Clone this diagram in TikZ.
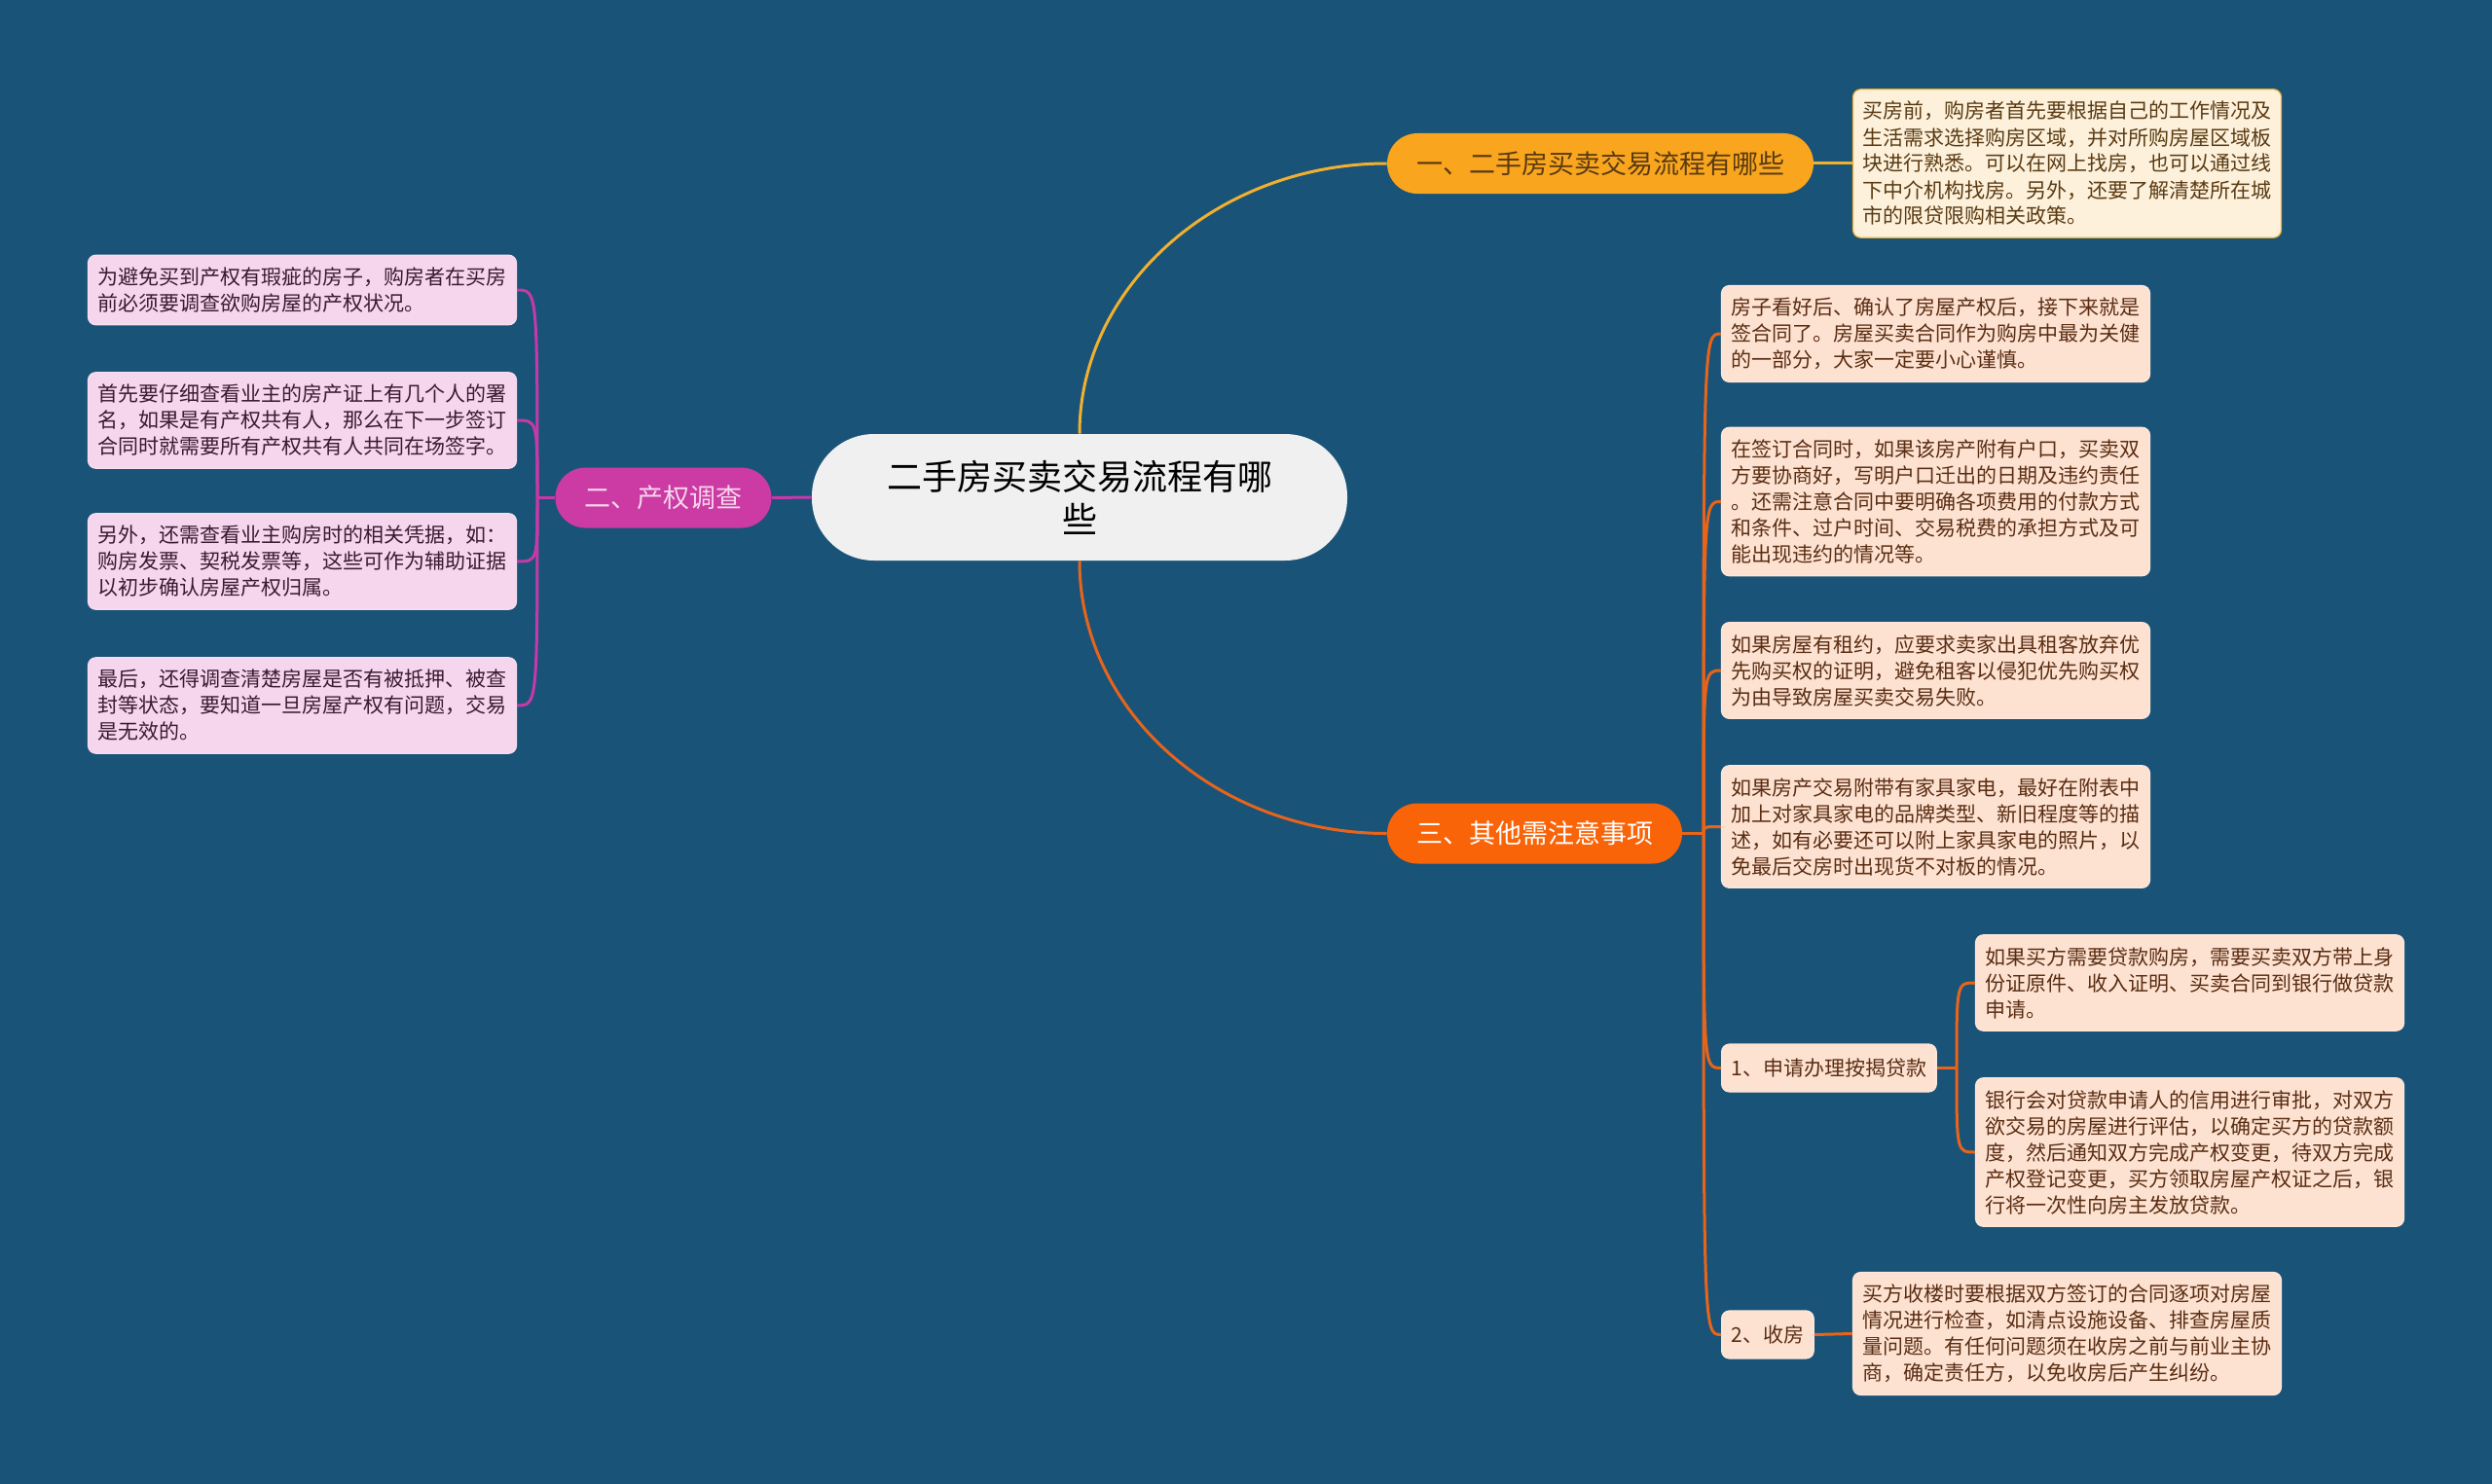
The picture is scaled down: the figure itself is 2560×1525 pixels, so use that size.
\documentclass[tikz,border=0pt]{standalone}
\usepackage{fontspec}
\setmainfont{Noto Sans CJK SC}
\definecolor{bgBlue}{RGB}{26,83,120}
\definecolor{mainFill}{RGB}{240,240,240}
\definecolor{yelFill}{RGB}{249,166,30}
\definecolor{yelLine}{RGB}{240,176,48}
\definecolor{yelLeaf}{RGB}{253,241,220}
\definecolor{yelText}{RGB}{90,58,18}
\definecolor{magFill}{RGB}{203,59,163}
\definecolor{magLine}{RGB}{198,58,168}
\definecolor{magLeaf}{RGB}{245,214,236}
\definecolor{magText}{RGB}{58,26,51}
\definecolor{oraFill}{RGB}{250,100,8}
\definecolor{oraLine}{RGB}{232,100,26}
\definecolor{oraLeaf}{RGB}{253,226,210}
\definecolor{oraText}{RGB}{90,45,18}
\begin{document}
\begin{tikzpicture}[x=0.5pt, y=-0.5pt,
    main/.style={fill=mainFill, rounded corners=32pt, minimum width=275pt, minimum height=65pt,
        align=center, text=black, font=\fontsize{18pt}{22pt}\selectfont},
    branch/.style={rounded corners=15.5pt, minimum height=31pt, inner xsep=15pt, inner ysep=0pt,
        font=\fontsize{13.5pt}{16pt}\selectfont},
    leaf/.style={draw, line width=0.6pt, rounded corners=4pt, text width=210pt, align=left,
        inner xsep=5pt, inner ysep=6.25pt, font=\fontsize{10.5pt}{13.5pt}\selectfont},
    sub/.style={draw, line width=0.6pt, rounded corners=4pt, minimum height=24.5pt, inner xsep=5pt,
        inner ysep=0pt, font=\fontsize{10.5pt}{13.5pt}\selectfont},
    lnY/.style={draw=yelLine, line width=1.5pt},
    lnM/.style={draw=magLine, line width=1.5pt},
    lnO/.style={draw=oraLine, line width=1.5pt}]
% Background
\useasboundingbox[fill=bgBlue] (0,0) rectangle (2560,1525);

% Central topic
\node[main] (c) at (1109,511) {二手房买卖交易流程有哪\\些};

% Branches
\node[branch, fill=yelFill, text=yelText] (b1) at (1644,168) {一、二手房买卖交易流程有哪些};
\node[branch, fill=magFill, text=magLeaf] (b2) at (681.5,511.5) {二、产权调查};
\node[branch, fill=oraFill, text=white] (b3) at (1576.5,856.5) {三、其他需注意事项};

% Branch 1 leaf
\node[leaf, fill=yelLeaf, draw=yelLine, text=yelText] (t1) at (2123.5,168)
    {买房前，购房者首先要根据自己的工作情况及\\生活需求选择购房区域，并对所购房屋区域板\\块进行熟悉。可以在网上找房，也可以通过线\\下中介机构找房。另外，还要了解清楚所在城\\市的限贷限购相关政策。};

% Branch 2 leaves
\node[leaf, fill=magLeaf, draw=magLeaf!80!white, text=magText] (m1) at (310.5,298)
    {为避免买到产权有瑕疵的房子，购房者在买房\\前必须要调查欲购房屋的产权状况。};
\node[leaf, fill=magLeaf, draw=magLeaf!80!white, text=magText] (m2) at (310.5,432)
    {首先要仔细查看业主的房产证上有几个人的署\\名，如果是有产权共有人，那么在下一步签订\\合同时就需要所有产权共有人共同在场签字。};
\node[leaf, fill=magLeaf, draw=magLeaf!80!white, text=magText] (m3) at (310.5,577)
    {另外，还需查看业主购房时的相关凭据，如：\\购房发票、契税发票等，这些可作为辅助证据\\以初步确认房屋产权归属。};
\node[leaf, fill=magLeaf, draw=magLeaf!80!white, text=magText] (m4) at (310.5,725)
    {最后，还得调查清楚房屋是否有被抵押、被查\\封等状态，要知道一旦房屋产权有问题，交易\\是无效的。};

% Branch 3 leaves
\node[leaf, fill=oraLeaf, draw=oraLeaf!80!white, text=oraText] (r1) at (1988.5,343)
    {房子看好后、确认了房屋产权后，接下来就是\\签合同了。房屋买卖合同作为购房中最为关健\\的一部分，大家一定要小心谨慎。};
\node[leaf, fill=oraLeaf, draw=oraLeaf!80!white, text=oraText] (r2) at (1988.5,515.5)
    {在签订合同时，如果该房产附有户口，买卖双\\方要协商好，写明户口迁出的日期及违约责任\\。还需注意合同中要明确各项费用的付款方式\\和条件、过户时间、交易税费的承担方式及可\\能出现违约的情况等。};
\node[leaf, fill=oraLeaf, draw=oraLeaf!80!white, text=oraText] (r3) at (1988.5,689)
    {如果房屋有租约，应要求卖家出具租客放弃优\\先购买权的证明，避免租客以侵犯优先购买权\\为由导致房屋买卖交易失败。};
\node[leaf, fill=oraLeaf, draw=oraLeaf!80!white, text=oraText] (r4) at (1988.5,849.5)
    {如果房产交易附带有家具家电，最好在附表中\\加上对家具家电的品牌类型、新旧程度等的描\\述，如有必要还可以附上家具家电的照片，以\\免最后交房时出现货不对板的情况。};

% Sub topics
\node[sub, fill=oraLeaf, draw=oraLeaf!80!white, text=oraText, anchor=west] (s1) at (1768,1097.5) {1、申请办理按揭贷款};
\node[leaf, fill=oraLeaf, draw=oraLeaf!80!white, text=oraText] (s1a) at (2249.5,1010)
    {如果买方需要贷款购房，需要买卖双方带上身\\份证原件、收入证明、买卖合同到银行做贷款\\申请。};
\node[leaf, fill=oraLeaf, draw=oraLeaf!80!white, text=oraText] (s1b) at (2249.5,1184)
    {银行会对贷款申请人的信用进行审批，对双方\\欲交易的房屋进行评估，以确定买方的贷款额\\度，然后通知双方完成产权变更，待双方完成\\产权登记变更，买方领取房屋产权证之后，银\\行将一次性向房主发放贷款。};
\node[sub, fill=oraLeaf, draw=oraLeaf!80!white, text=oraText, anchor=west] (s2) at (1768,1371.5) {2、收房};
\node[leaf, fill=oraLeaf, draw=oraLeaf!80!white, text=oraText] (s2a) at (2123.5,1370.5)
    {买方收楼时要根据双方签订的合同逐项对房屋\\情况进行检查，如清点设施设备、排查房屋质\\量问题。有任何问题须在收房之前与前业主协\\商，确定责任方，以免收房后产生纠纷。};

% Connectors from center
\draw[lnY] (c.north) .. controls +(0,-152) and +(-173,0) .. (b1.west);
\draw[lnO] (c.south) .. controls +(0,155) and +(-174,0) .. (b3.west);
\draw[lnM] (c.west) -- (b2.east);
\draw[lnY] (b1.east) -- (t1.west);

% Branch 2 spine
\coordinate (msp) at (552,511.5);
\draw[lnM] (b2.west) -- (msp);
\foreach \n in {m1,m2,m3,m4}
    \draw[lnM] (msp) .. controls (msp |- \n.east) .. (\n.east);

% Branch 3 spine
\coordinate (osp) at (1750,856.5);
\draw[lnO] (b3.east) -- (osp);
\foreach \n in {r1,r2,r3,r4,s1,s2}
    \draw[lnO] (osp) .. controls (osp |- \n.west) .. (\n.west);

% Sub topic spines
\coordinate (ssp) at (2010,1097.5);
\draw[lnO] (s1.east) -- (ssp);
\foreach \n in {s1a,s1b}
    \draw[lnO] (ssp) .. controls (ssp |- \n.west) .. (\n.west);
\draw[lnO] (s2.east) -- (s2a.west);

\end{tikzpicture}
\end{document}
